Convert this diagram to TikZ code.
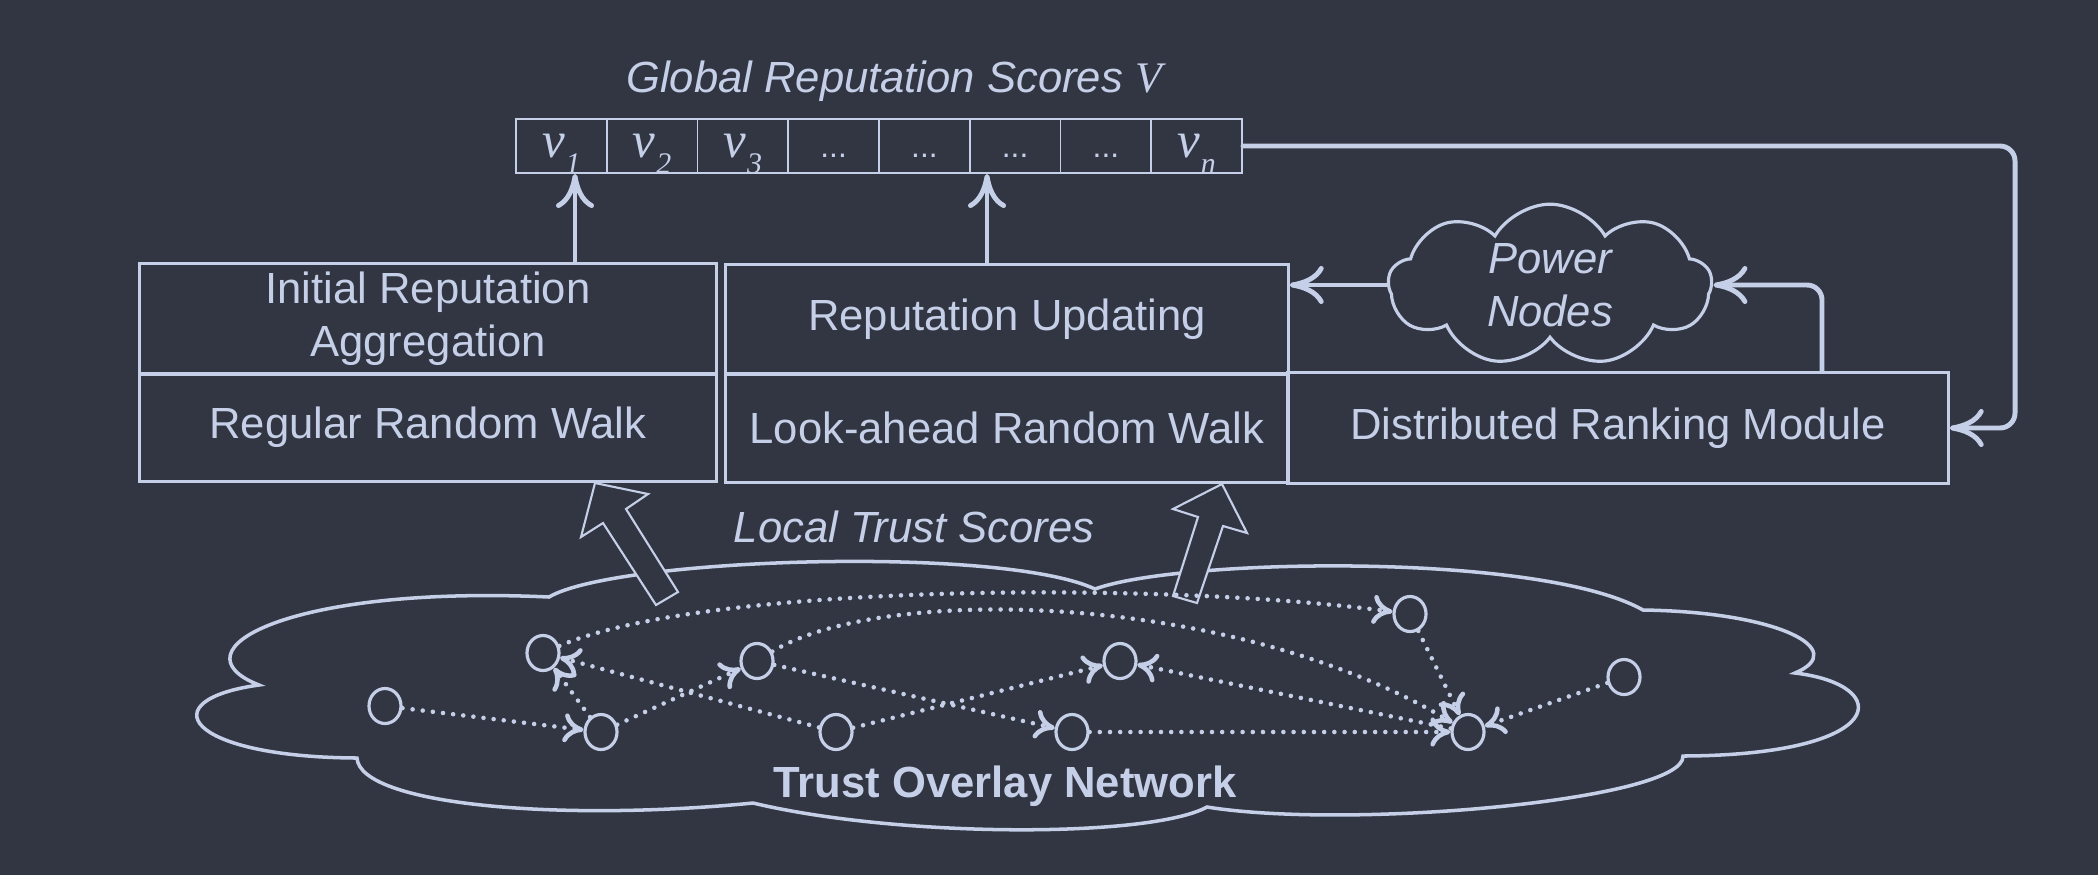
\documentclass[tikz,border=0pt]{standalone}
\usepackage{fontspec}
\setmainfont{Liberation Sans}
\newfontfamily\tnr{Liberation Serif}
\usetikzlibrary{arrows.meta,shapes.geometric,shapes.symbols,calc}
\definecolor{bgc}{HTML}{323642}
\definecolor{fgc}{HTML}{C5CFE8}
\newcommand{\lf}{\fontsize{12.4}{15}\selectfont}
\newcommand{\vsub}[1]{{\tnr\itshape\fontsize{14.5}{14.5}\selectfont v\kern0.2pt\raisebox{-4.8pt}{\fontsize{8.5}{8.5}\selectfont #1}}}
\newcommand{\mydots}{{\fontsize{9}{9}\selectfont ...}}
\begin{document}
\begin{tikzpicture}[x=0.01cm,y=-0.01cm,color=fgc,
  box/.style={draw=fgc, line width=0.85pt, inner sep=0pt, font=\lf, align=center},
  cell/.style={draw=fgc, line width=0.55pt, minimum width=0.9075cm, minimum height=0.54cm, inner sep=0pt, text height=0.22cm, text depth=0cm},
  fat/.style={draw=fgc, line width=1.4pt, line cap=round, -{To[length=0.34cm,width=0.38cm]}},
  hollow/.style={draw=fgc, fill=bgc, line width=0.6pt, line join=miter},
  cloudline/.style={draw=fgc, line width=1pt},
  pt/.style={ellipse, draw=fgc, line width=0.9pt, minimum width=0.32cm, minimum height=0.35cm, inner sep=0pt},
  ted/.style={draw=fgc, line width=1.3pt, line cap=round, dash pattern=on 0pt off 2.9pt, -{To[length=0.2cm,width=0.29cm]}}
]
\fill[bgc] (0,0) rectangle (2098,875);
\useasboundingbox (0,0) rectangle (2098,875);

% title and vector
\node[anchor=base, font=\lf\itshape] (title) at (894,92) {Global Reputation Scores {\tnr V}};
\node[cell] (cell1) at (561.4,146) {\vsub{1}};
\node[cell] (cell2) at (652.1,146) {\vsub{2}};
\node[cell] (cell3) at (742.9,146) {\vsub{3}};
\node[cell] (cell4) at (833.6,146) {\mydots};
\node[cell] (cell5) at (924.4,146) {\mydots};
\node[cell] (cell6) at (1015.1,146) {\mydots};
\node[cell] (cell7) at (1105.9,146) {\mydots};
\node[cell] (cell8) at (1196.6,146) {\vsub{n}};

% module boxes
\node[box, minimum width=5.76cm, minimum height=1.10cm] (ira) at (428,319) {Initial Reputation\\Aggregation};
\node[box, minimum width=5.76cm, minimum height=1.07cm] (rrw) at (428,427.5) {Regular Random Walk};
\node[box, minimum width=5.62cm, minimum height=1.09cm] (ru) at (1007,319.5) {Reputation Updating};
\node[box, minimum width=5.62cm, minimum height=1.08cm] (lrw) at (1007,428) {Look-ahead Random Walk};
\node[box, minimum width=6.60cm, minimum height=1.10cm] (drm) at (1618,428) {Distributed Ranking Module};

\node[cloud, cloud puffs=9, cloud puff arc=120, aspect=2.2, draw=fgc, line width=0.9pt,
      minimum width=3.23cm, minimum height=1.45cm, inner sep=0pt, font=\lf\itshape, align=center] (pn) at (1550,285) {Power\\Nodes};

% arrows up to the vector
\coordinate (a1) at (575,174);
\coordinate (a2) at (987,174);
\draw[fat] (ira.north -| a1) -- (a1);
\draw[fat] (ru.north -| a2) -- (a2);

% power nodes arrows
\draw[fat] (pn.west) -- (pn.west -| ru.east);
\coordinate (c1) at (1822,0);
\draw[fat, rounded corners=0.15cm] (drm.north -| c1) |- (pn.east);

% loop back
\coordinate (lp) at (2015,0);
\draw[fat, rounded corners=0.15cm] (cell8.east) -- (cell8.east -| lp) |- (drm.east);

% trust overlay cloud
\draw[cloudline] (549,597) .. controls (615,558) and (1000,545) .. (1095,589)
  .. controls (1180,558) and (1540,552) .. (1643,610)
  .. controls (1780,612) and (1850,650) .. (1795,673)
  .. controls (1895,685) and (1890,755) .. (1683,756)
  .. controls (1685,800) and (1350,830) .. (1207,807)
  .. controls (1150,838) and (900,838) .. (753,803)
  .. controls (560,822) and (360,805) .. (357,758)
  .. controls (185,757) and (150,700) .. (259,685)
  .. controls (170,650) and (290,585) .. cycle;

% hollow arrows
\draw[hollow] (595,483) -- (648,494) -- (626,509) -- (678,592) -- (656,605) -- (603,523) -- (581,537) -- cycle;
\draw[hollow] (1222,484) -- (1247,533) -- (1223,526) -- (1197,603) -- (1173,596) -- (1198,517) -- (1173,509) -- cycle;

\node[anchor=base, font=\lf\itshape] (lts) at (914,542) {Local Trust Scores};
\node[anchor=base, font=\lf\bfseries] (ton) at (1005,797) {Trust Overlay Network};

% network
\node[pt] (n1) at (385,706) {};
\node[pt] (n2) at (543,653) {};
\node[pt] (n3) at (601,732) {};
\node[pt] (n4) at (757,661) {};
\node[pt] (n5) at (836,732) {};
\node[pt] (n6) at (1120,661) {};
\node[pt] (n7) at (1072,732) {};
\node[pt] (n8) at (1410,614) {};
\node[pt] (n9) at (1468,732) {};
\node[pt] (n10) at (1624,677) {};

\draw[ted] (n1) -- (n3);
\draw[ted] (n3) -- (n2);
\draw[ted] (n3) -- (n4);
\draw[ted] (n5) -- (n2);
\draw[ted] (n2) .. controls (700,585) and (1150,580) .. (n8);
\draw[ted] (n4) .. controls (880,585) and (1230,590) .. (n9);
\draw[ted] (n4) -- (n7);
\draw[ted] (n5) -- (n6);
\draw[ted] (n9) -- (n6);
\draw[ted] (n7) -- (n9);
\draw[ted] (n8) -- (n9);
\draw[ted] (n10) -- (n9);
\end{tikzpicture}
\end{document}
